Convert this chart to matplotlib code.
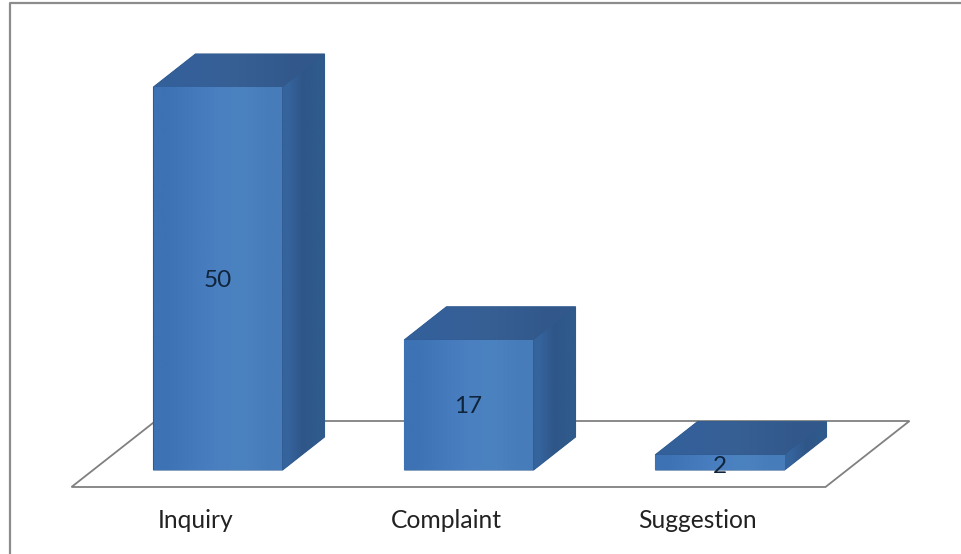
"""Recreates the pseudo-3D column chart of inquiry, complaint and suggestion counts."""

import numpy as np
import matplotlib
matplotlib.use("Agg")
import matplotlib.pyplot as plt
from matplotlib.patches import Polygon

categories = ["Inquiry", "Complaint", "Suggestion"]
values = [50, 17, 2]

W, H = 961, 554
X_STEP = 251.0    # pixels between columns
Y_UNIT = 7.66     # pixels per count
X0, Y0 = 218.0, 470.0   # pixel position of the first column's base centre

plt.rcParams["font.family"] = ["Lato", "DejaVu Sans"]
fig = plt.figure(figsize=(W / 100, H / 100), dpi=100)
ax = fig.add_axes([0, 0, 1, 1])
ax.axis("off")

bar_w = 129 / X_STEP
dx = 42 / X_STEP
dy = 33 / Y_UNIT


def shade(poly, colors):
    # fill a polygon with a left-to-right gradient, clipped to its outline
    xs = [p[0] for p in poly]
    ys = [p[1] for p in poly]
    grad = np.array([matplotlib.colors.to_rgb(c) for c in colors])[np.newaxis, :, :]
    im = ax.imshow(grad, extent=(min(xs), max(xs), min(ys), max(ys)), origin="lower",
                   aspect="auto", interpolation="bilinear", zorder=3)
    patch = Polygon(poly, closed=True, fc="none", ec="none", transform=ax.transData)
    ax.add_patch(patch)
    im.set_clip_path(patch)


# floor of the chart
fl = -bar_w / 2 - 82 / X_STEP
fr = 2 + bar_w / 2 + 41 / X_STEP
fb = -17 / Y_UNIT
ft = 49 / Y_UNIT
fd = 84 / X_STEP
ax.add_patch(Polygon([(fl, fb), (fr, fb), (fr + fd, ft), (fl + fd, ft)], closed=True,
                     fc="white", ec="#808080", lw=1.3, zorder=1))

# columns: solid silhouette first so no seams show, then side, top and front faces
for i, (name, v) in enumerate(zip(categories, values)):
    l, r = i - bar_w / 2, i + bar_w / 2
    front = [(l, 0), (r, 0), (r, v), (l, v)]
    side = [(r, 0), (r + dx, dy), (r + dx, v + dy), (r, v)]
    top = [(l, v), (r, v), (r + dx, v + dy), (l + dx, v + dy)]
    outline = [(l, 0), (r, 0), (r + dx, dy), (r + dx, v + dy), (l + dx, v + dy), (l, v)]
    ax.add_patch(Polygon(outline, closed=True, fc="#2f5a8c", ec="#2f5a8c", lw=0.8, zorder=2))
    shade(side, ["#35639c", "#2f5688", "#2f5a8c"])
    shade(top, ["#34609a", "#375f94", "#32588b"])
    shade(front, ["#3d72b4", "#4479bc", "#4a80c0", "#4b82bf", "#477cba"])
    ax.text(i - 0.002, v / 2 - (0.2 if v > 5 else 0.5), str(v), ha="center", va="center",
            fontsize=17.5, color="#10243c", zorder=5)
    ax.text(i - 0.09, -50.5 / Y_UNIT, name, ha="center", va="center", fontsize=17.7,
            color="#222222", zorder=5)

# only the left and top edges of the outer frame are visible
ax.plot([10, 10, W], [0, H - 3, H - 3], transform=None, color="#8c8c8c", lw=1.6,
        zorder=6, clip_on=False)

ax.set_xlim(-X0 / X_STEP, (W - X0) / X_STEP)
ax.set_ylim((Y0 - H) / Y_UNIT, Y0 / Y_UNIT)
fig.savefig("out.png", dpi=100)
